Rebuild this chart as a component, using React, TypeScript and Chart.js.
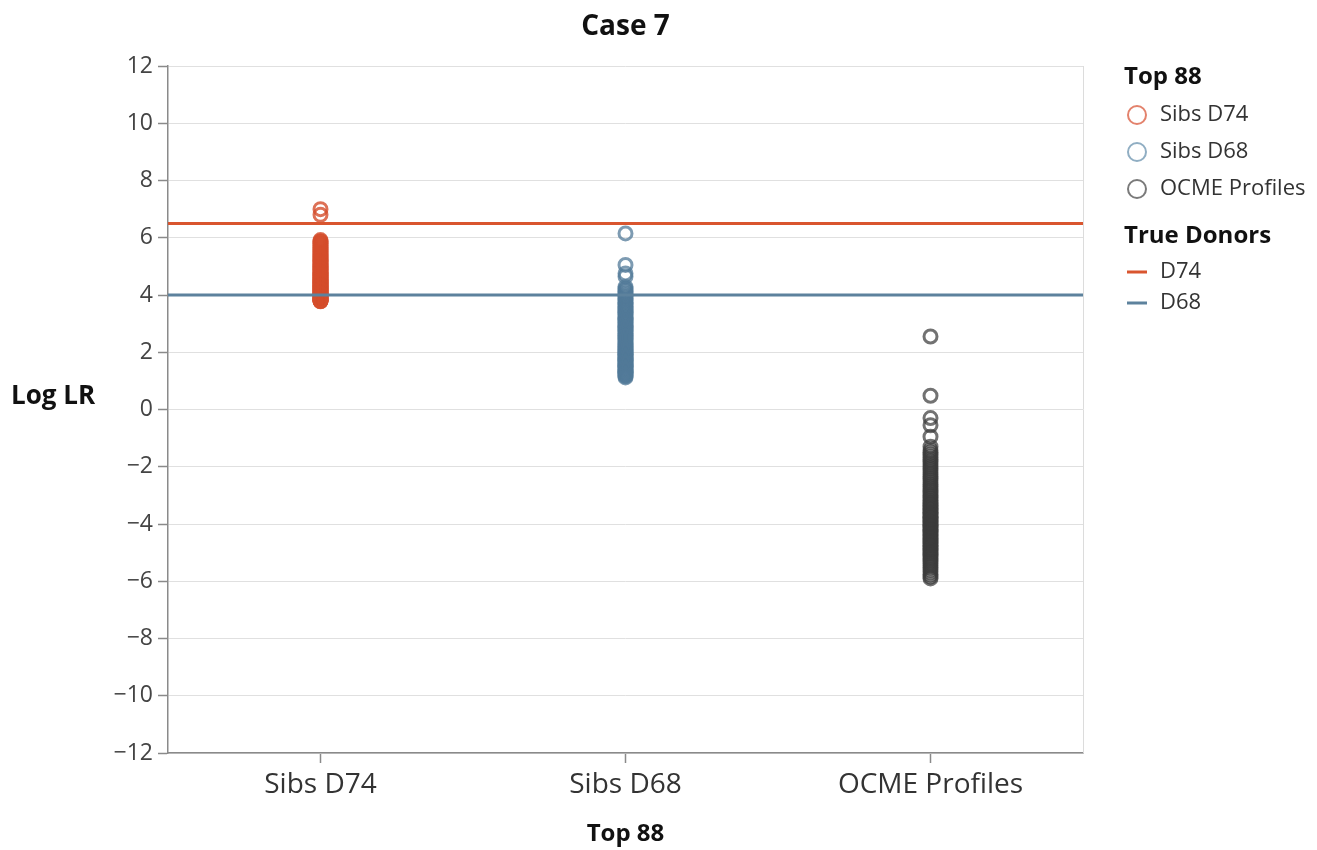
import React, { useEffect, useRef } from "react";
import { Chart, registerables } from "chart.js";

Chart.register(...registerables);

const categories = ["Sibs D74", "Sibs D68", "OCME Profiles"];

const sibsD74 = [7.0, 6.8, 5.92, 5.88, 5.85, 5.81, 5.78, 5.74, 5.7, 5.67, 5.63, 5.6, 5.56, 5.53, 5.49, 5.46, 5.42, 5.39, 5.36, 5.32, 5.29, 5.26, 5.22, 5.19, 5.16, 5.13, 5.1, 5.07, 5.04, 5.01, 4.98, 4.95, 4.92, 4.9, 4.87, 4.84, 4.81, 4.79, 4.76, 4.73, 4.71, 4.68, 4.66, 4.63, 4.61, 4.58, 4.56, 4.54, 4.51, 4.49, 4.47, 4.45, 4.42, 4.4, 4.38, 4.36, 4.34, 4.32, 4.3, 4.28, 4.26, 4.24, 4.22, 4.2, 4.18, 4.16, 4.14, 4.12, 4.1, 4.08, 4.06, 4.04, 4.02, 4.0, 3.98, 3.96, 3.94, 3.92, 3.9, 3.88, 3.86, 3.84, 3.83, 3.82, 3.81, 3.8, 3.79, 3.78];

const sibsD68 = [6.15, 5.05, 4.75, 4.65, 4.28, 4.22, 4.17, 4.11, 4.05, 4.0, 3.95, 3.9, 3.85, 3.8, 3.75, 3.71, 3.66, 3.62, 3.57, 3.52, 3.48, 3.44, 3.4, 3.35, 3.31, 3.26, 3.22, 3.18, 3.14, 3.1, 3.06, 3.02, 2.98, 2.94, 2.9, 2.86, 2.82, 2.78, 2.74, 2.71, 2.66, 2.62, 2.58, 2.55, 2.5, 2.46, 2.43, 2.38, 2.34, 2.31, 2.27, 2.24, 2.2, 2.17, 2.14, 2.1, 2.07, 2.04, 2.0, 1.97, 1.94, 1.91, 1.88, 1.85, 1.82, 1.79, 1.76, 1.73, 1.7, 1.67, 1.64, 1.61, 1.58, 1.55, 1.52, 1.49, 1.46, 1.43, 1.4, 1.37, 1.34, 1.31, 1.28, 1.25, 1.22, 1.19, 1.16, 1.12];

const ocmeProfiles = [2.55, 0.48, -0.3, -0.55, -0.95, -1.3, -1.42, -1.5, -1.58, -1.66, -1.75, -1.82, -1.9, -1.98, -2.05, -2.12, -2.2, -2.27, -2.34, -2.4, -2.47, -2.55, -2.62, -2.68, -2.75, -2.82, -2.88, -2.95, -3.0, -3.06, -3.12, -3.18, -3.23, -3.28, -3.33, -3.38, -3.43, -3.48, -3.53, -3.58, -3.62, -3.67, -3.72, -3.76, -3.81, -3.85, -3.9, -3.95, -4.0, -4.04, -4.09, -4.13, -4.18, -4.22, -4.27, -4.31, -4.36, -4.4, -4.45, -4.5, -4.54, -4.59, -4.63, -4.68, -4.73, -4.78, -4.83, -4.88, -4.93, -4.98, -5.03, -5.08, -5.14, -5.2, -5.26, -5.32, -5.38, -5.45, -5.52, -5.6, -5.68, -5.76, -5.84, -5.9];

const trueDonorNames = ["D74", "D68"];
const trueDonorValues = [6.5, 4.0];

const yMin = -12;
const yMax = 12;
const yStep = 2;

const FONT = "'Open Sans', 'Noto Sans', sans-serif";

const pointColors = ["rgba(212,78,44,0.8)", "rgba(82,122,152,0.75)", "rgba(60,60,60,0.72)"];
const legendCircleColors = ["#e3826c", "#90aec3", "#7a7a7a"];
const lineColors = ["#d9552f", "#5d829d"];

const overlayPlugin = {
  id: "overlay",
  afterDraw(chart: any) {
    const { ctx, chartArea } = chart;
    ctx.save();
    ctx.strokeStyle = "#dcdcdc";
    ctx.lineWidth = 1;
    ctx.beginPath();
    ctx.moveTo(chartArea.right + 0.5, chartArea.top);
    ctx.lineTo(chartArea.right + 0.5, chartArea.bottom);
    ctx.stroke();

    ctx.fillStyle = "#111";
    ctx.textBaseline = "middle";
    ctx.textAlign = "center";
    ctx.font = `bold 28px ${FONT}`;
    ctx.fillText("Case 7", (chartArea.left + chartArea.right) / 2, 27);

    ctx.textAlign = "left";
    ctx.font = `bold 26px ${FONT}`;
    ctx.fillText("Log LR", 11, 397);

    const lx = 1124;
    ctx.font = `bold 24px ${FONT}`;
    ctx.fillStyle = "#111";
    ctx.fillText("Top 88", lx, 77);
    const cy = [115, 152, 189];
    categories.forEach((c, i) => {
      ctx.strokeStyle = legendCircleColors[i];
      ctx.lineWidth = 2;
      ctx.beginPath();
      ctx.arc(1137, cy[i], 9, 0, Math.PI * 2);
      ctx.stroke();
      ctx.fillStyle = "#333";
      ctx.font = `22px ${FONT}`;
      ctx.fillText(c, 1160, cy[i]);
    });
    ctx.font = `bold 24px ${FONT}`;
    ctx.fillStyle = "#111";
    ctx.fillText("True Donors", lx, 236);
    const ly = [272, 303];
    trueDonorNames.forEach((n, i) => {
      ctx.strokeStyle = lineColors[i];
      ctx.lineWidth = 3;
      ctx.beginPath();
      ctx.moveTo(1127, ly[i]);
      ctx.lineTo(1147, ly[i]);
      ctx.stroke();
      ctx.fillStyle = "#333";
      ctx.font = `22px ${FONT}`;
      ctx.fillText(n, 1160, ly[i]);
    });
    ctx.restore();
  },
};

export default function App() {
  const ref = useRef<HTMLCanvasElement>(null);
  useEffect(() => {
    if (!ref.current) return;
    const seriesValues = [sibsD74, sibsD68, ocmeProfiles];
    const pointSets = seriesValues.map((vals, i) => ({
      type: "scatter" as const,
      label: categories[i],
      data: vals.map((v) => ({ x: categories[i], y: v })),
      xAxisID: "x",
      yAxisID: "y",
      pointStyle: "circle",
      pointRadius: 6.5,
      pointBorderWidth: 3,
      pointBackgroundColor: "rgba(0,0,0,0)",
      pointBorderColor: pointColors[i],
      borderColor: pointColors[i],
      backgroundColor: "rgba(0,0,0,0)",
      showLine: false,
      order: 2,
    }));
    const lineSets = trueDonorValues.map((v, i) => ({
      type: "line" as const,
      label: trueDonorNames[i],
      data: [
        { x: 0, y: v },
        { x: 1, y: v },
      ],
      xAxisID: "x2",
      yAxisID: "y",
      borderColor: lineColors[i],
      borderWidth: 3,
      pointRadius: 0,
      fill: false,
      order: 1,
    }));
    const chart = new Chart(ref.current, {
      data: { labels: categories, datasets: [...pointSets, ...lineSets] as any },
      options: {
        animation: false,
        responsive: false,
        maintainAspectRatio: false,
        layout: { padding: { top: 66, right: 234, left: 0, bottom: 0 } },
        plugins: {
          legend: { display: false },
          title: { display: false },
          tooltip: { enabled: false },
        },
        scales: {
          x: {
            type: "category",
            offset: true,
            grid: { drawOnChartArea: false, drawTicks: true, tickLength: 10, tickColor: "#8a8a8a", tickWidth: 1.5 },
            border: { color: "#8a8a8a", width: 1.5 },
            ticks: { color: "#333", font: { family: FONT, size: 28 }, padding: 5, maxRotation: 0 },
            title: {
              display: true,
              text: "Top 88",
              color: "#111",
              font: { family: FONT, size: 24, weight: "bold" },
              padding: { top: 4, bottom: 1 },
            },
            afterFit(scale: any) {
              scale.height = 97;
            },
          },
          x2: {
            type: "linear",
            display: false,
            min: 0,
            max: 1,
          },
          y: {
            type: "linear",
            min: yMin,
            max: yMax,
            ticks: {
              stepSize: yStep,
              color: "#444",
              font: { family: FONT, size: 23 },
              padding: 5,
              callback: (v: any) => (Number(v) < 0 ? "\u2212" + Math.abs(Number(v)) : String(v)),
            },
            grid: { color: "#e0e0e0", lineWidth: 1, tickLength: 10, tickColor: "#8a8a8a", tickWidth: 1.5 },
            border: { color: "#8a8a8a", width: 1.5 },
            afterFit(scale: any) {
              scale.width = 168;
            },
          },
        },
      },
      plugins: [overlayPlugin],
    });
    return () => chart.destroy();
  }, []);
  return (
    <div style={{ position: "absolute", left: 0, top: 0, width: 1317, height: 850, background: "#fff" }}>
      <canvas ref={ref} width={1317} height={850} style={{ width: 1317, height: 850 }} />
    </div>
  );
}
